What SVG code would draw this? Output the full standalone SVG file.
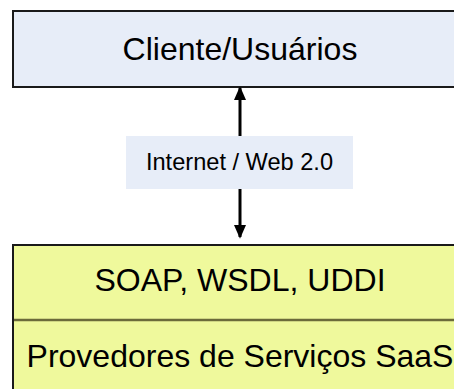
<svg xmlns="http://www.w3.org/2000/svg" width="454" height="389" viewBox="0 0 454 389">
  <defs>
    <style>
      .lbl { font-family: "Liberation Sans", Arial, sans-serif; fill: #000; text-anchor: middle; }
      .big { font-size: 32px; }
      .small { font-size: 23.6px; }
      .edge { stroke: #000; stroke-width: 3; fill: none; }
    </style>
    <marker id="head" markerWidth="14" markerHeight="16" refX="14" refY="7" orient="auto" markerUnits="userSpaceOnUse" viewBox="0 0 16 14">
      <path d="M0,0 L16,7 L0,14 Z" fill="#000"/>
    </marker>
  </defs>

  <rect x="0" y="0" width="454" height="389" fill="#fff"/>

  <!-- client layer -->
  <g id="cliente">
    <rect x="13" y="11" width="445" height="76" fill="#e7edf8" stroke="#1a1a1a" stroke-width="2"/>
    <text class="lbl big" x="240" y="60">Cliente/Usuários</text>
  </g>

  <!-- connectors: two-way link through the network -->
  <g id="connectors">
    <line class="edge" x1="240" y1="136" x2="240" y2="88" marker-end="url(#head)"/>
    <line class="edge" x1="240" y1="189" x2="240" y2="237" marker-end="url(#head)"/>
  </g>

  <g id="internet">
    <rect x="126" y="136" width="227" height="53" fill="#e7edf8"/>
    <text class="lbl small" x="239.5" y="170">Internet / Web 2.0</text>
  </g>

  <!-- provider stack -->
  <g id="soap">
    <rect x="13" y="245" width="445" height="75" fill="#eff99c" stroke="#1a1a1a" stroke-width="2"/>
    <text class="lbl big" x="240" y="291">SOAP, WSDL, UDDI</text>
  </g>
  <g id="provedores">
    <rect x="13" y="320" width="445" height="80" fill="#eff99c"/>
    <line x1="13" y1="245" x2="13" y2="389" stroke="#1a1a1a" stroke-width="2"/>
    <line x1="14" y1="320" x2="454" y2="320" stroke="#6b6b3a" stroke-width="2.5"/>
    <text class="lbl big" x="240" y="367">Provedores de Serviços SaaS</text>
  </g>
</svg>
